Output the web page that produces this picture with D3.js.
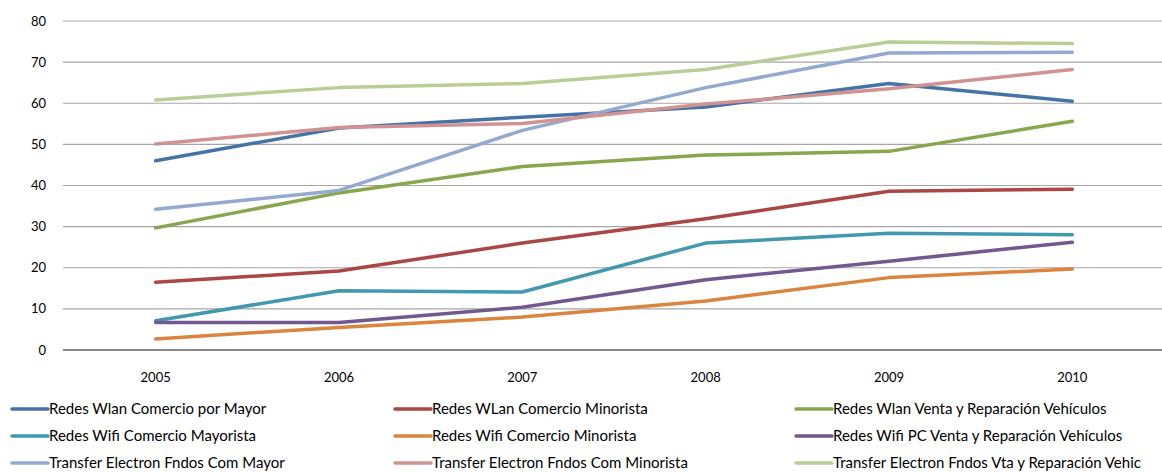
<!DOCTYPE html>
<html>
<head>
<meta charset="utf-8">
<script src="https://cdn.jsdelivr.net/npm/d3@7"></script>
<style>
  html, body { margin: 0; padding: 0; background: #fff; }
  svg { display: block; }
  text { font-family: "Liberation Sans Narrow", Lato, "Open Sans", sans-serif; fill: #000; }
</style>
</head>
<body>
<svg id="chart" width="1162" height="472"></svg>
<script>
// Years on the horizontal axis
const years = ["2005", "2006", "2007", "2008", "2009", "2010"];

// Vertical axis ticks
const yTicks = [0, 10, 20, 30, 40, 50, 60, 70, 80];

// Series names (legend order)
const seriesNames = [
  "Redes Wlan Comercio por Mayor",
  "Redes WLan Comercio Minorista",
  "Redes Wlan Venta y Reparación Vehículos",
  "Redes Wifi Comercio Mayorista",
  "Redes Wifi Comercio Minorista",
  "Redes Wifi PC Venta y Reparación Vehículos",
  "Transfer Electron Fndos Com Mayor",
  "Transfer Electron Fndos Com Minorista",
  "Transfer Electron Fndos Vta y Reparación Vehic"
];

// Percentages per year for each series
const wlanMayor      = [46.0, 54.0, 56.6, 59.1, 64.8, 60.5];
const wlanMinorista  = [16.5, 19.2, 26.0, 31.9, 38.6, 39.1];
const wlanVehiculos  = [29.7, 38.2, 44.6, 47.4, 48.3, 55.6];
const wifiMayorista  = [7.1, 14.4, 14.1, 26.0, 28.4, 28.0];
const wifiMinorista  = [2.7, 5.5, 8.0, 11.9, 17.6, 19.7];
const wifiVehiculos  = [6.7, 6.7, 10.4, 17.1, 21.6, 26.2];
const tefMayor       = [34.2, 38.8, 53.4, 63.8, 72.2, 72.4];
const tefMinorista   = [50.1, 54.1, 55.1, 59.8, 63.5, 68.2];
const tefVehiculos   = [60.8, 63.8, 64.8, 68.2, 74.9, 74.5];

const seriesValues = [wlanMayor, wlanMinorista, wlanVehiculos, wifiMayorista,
  wifiMinorista, wifiVehiculos, tefMayor, tefMinorista, tefVehiculos];

const colors = ["#4572A7", "#AA4643", "#89A54E", "#4198AF", "#DB843D",
  "#71588F", "#93A9CF", "#D19392", "#B9CD96"];

const svg = d3.select("#chart");

const x = d3.scaleBand().domain(years).range([64, 1164]);
const y = d3.scaleLinear().domain([0, 80]).range([350, 21]);

// Horizontal gridlines
svg.append("g")
  .selectAll("line")
  .data(yTicks.filter(d => d > 0))
  .join("line")
  .attr("x1", 63).attr("x2", 1162)
  .attr("y1", d => y(d)).attr("y2", d => y(d))
  .attr("stroke", "#A6A6A6").attr("stroke-width", 1.2);

// Y-axis labels
svg.append("g")
  .selectAll("text")
  .data(yTicks)
  .join("text")
  .attr("x", 46).attr("y", d => y(d))
  .attr("dy", "0.35em")
  .attr("text-anchor", "end")
  .attr("font-size", 13)
  .text(d => d);

// Baseline
svg.append("line")
  .attr("x1", 63).attr("x2", 1162)
  .attr("y1", y(0)).attr("y2", y(0))
  .attr("stroke", "#888").attr("stroke-width", 2);

// X-axis labels
svg.append("g")
  .selectAll("text")
  .data(years)
  .join("text")
  .attr("x", d => x(d) + x.bandwidth() / 2)
  .attr("y", 382)
  .attr("text-anchor", "middle")
  .attr("font-size", 13)
  .text(d => d);

// Series lines
const line = d3.line()
  .x((d, i) => x(years[i]) + x.bandwidth() / 2)
  .y(d => y(d));

svg.append("g")
  .selectAll("path")
  .data(seriesValues)
  .join("path")
  .attr("d", d => line(d))
  .attr("fill", "none")
  .attr("stroke", (d, i) => colors[i])
  .attr("stroke-width", 3.5)
  .attr("stroke-linejoin", "round")
  .attr("stroke-linecap", "round");

// Legend: three columns, three rows
const colX = [12, 395, 796];
const rowY = [409, 436, 463];
const legend = svg.append("g")
  .selectAll("g")
  .data(seriesNames)
  .join("g")
  .attr("transform", (d, i) => `translate(${colX[i % 3]},${rowY[Math.floor(i / 3)]})`);

legend.append("line")
  .attr("x1", 0).attr("x2", 36)
  .attr("y1", 0).attr("y2", 0)
  .attr("stroke", (d, i) => colors[i])
  .attr("stroke-width", 3.5)
  .attr("stroke-linecap", "round");

legend.append("text")
  .attr("x", 37)
  .attr("y", 0)
  .attr("dy", "0.35em")
  .attr("font-size", 15)
  .text(d => d);
</script>
</body>
</html>
